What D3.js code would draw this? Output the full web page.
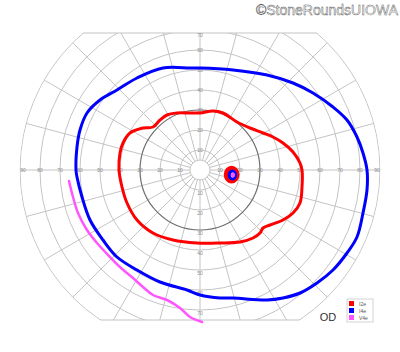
<!DOCTYPE html>
<html><head><meta charset="utf-8">
<script src="https://cdn.jsdelivr.net/npm/d3@7"></script>
<style>html,body{margin:0;padding:0;background:#fff}svg{display:block}</style>
</head><body><div id="c"></div>
<script>
// ---- data (degrees of visual field: [horizontal, vertical]) ----
const ringDegrees = [5,10,20,30,40,50,60,70,80,90];
const meridianStep = 15;
const hLabels = [10,20,30,40,50,60,70,80,90];
const vLabels = [10,20,30,40,50,60,70];
const fieldTop = 68.5, fieldBottom = -75;
const isopterNames = ["I2e","I4e","V4e"];
const isopterColors = ["#ff0000","#0000ff","#ff55ff"];
const redI2e = [[0,28.5],[6.5,29.5],[11.5,28.5],[18.5,24],[25,21],[31.5,18.5],[36.5,16.5],[41.5,13.5],[46.5,9],[50,3.5],[51,0],[51,-8.5],[50,-16.5],[46.5,-21.5],[41.5,-25],[35,-27.5],[31.5,-29],[30,-31.5],[26.5,-34],[20,-36],[10,-36.5],[-1.5,-36.5],[-13.5,-35],[-23.5,-31.5],[-31.5,-25],[-36.5,-16.5],[-39,-8.5],[-40.5,0],[-40,8.5],[-38.5,13.5],[-35,18.5],[-28.5,21],[-23.5,21.5],[-20,25],[-16.5,27.5],[-11.5,28.5],[-5,28.5]];
const blueI4e = [[0,51],[16.5,50],[33.5,47.5],[46.5,43.5],[56.5,38.5],[66.5,31.5],[73.5,25],[78.5,16.5],[81.5,8.5],[83.5,0],[83.5,-10],[81.5,-21.5],[78.5,-33.5],[73.5,-41.5],[66.5,-50],[58.5,-56.5],[50,-61.5],[41.5,-64],[33.5,-65],[16.5,-64],[10,-64],[0,-62.5],[-6.5,-60],[-20,-56],[-31.5,-50],[-41.5,-43.5],[-48.5,-35],[-55,-25],[-59,-13.5],[-61.5,-3.5],[-62,0],[-61.5,11.5],[-60,20],[-56.5,28.5],[-50,35],[-41.5,40],[-31.5,46],[-18.5,51],[-5,51]];
const magentaV4e = [[-65.5,-5.5],[-63.5,-13.5],[-61,-21.5],[-56.5,-30],[-51.5,-36.5],[-45,-43.5],[-40,-48.5],[-33.5,-54],[-28.5,-58.5],[-23.5,-62.5],[-16.5,-65],[-10,-69],[-5,-73.5],[1,-76]];
// blind spot per isopter: [cx, cy, rx, ry] in degrees
const blindSpots = [[15.8,-2.3,2.8,3.3],[16.2,-2.5,1.6,2.0],[16.5,-2.5,0.8,1.1]];
const eyeLabel = "OD";
const watermark = "©StoneRoundsUIOWA";

// ---- drawing ----
const W = 400, H = 352;
const x = d3.scaleLinear().domain([-90,90]).range([20,380]);
const y = d3.scaleLinear().domain([-90,90]).range([350,-10]);
const r = d3.scaleLinear().domain([0,90]).range([0,180]);
const cx = x(0), cy = y(0);

const svg = d3.select("#c").append("svg").attr("width",W).attr("height",H);
const defs = svg.append("defs");
defs.append("clipPath").attr("id","clipRect").append("rect")
  .attr("x",0).attr("width",W).attr("y",y(fieldTop)).attr("height",y(fieldBottom)-y(fieldTop));
defs.append("clipPath").attr("id","clipCirc").append("circle")
  .attr("cx",cx).attr("cy",cy).attr("r",r(90)+0.5);

const gOuter = svg.append("g").attr("clip-path","url(#clipCirc)");
const grid = gOuter.append("g").attr("clip-path","url(#clipRect)");

// meridians
const angles = d3.range(0,360,meridianStep);
grid.selectAll("line.m").data(angles).join("line")
  .attr("x1",a=>cx+r(5)*Math.cos(a*Math.PI/180))
  .attr("y1",a=>cy-r(5)*Math.sin(a*Math.PI/180))
  .attr("x2",a=>cx+r(90)*Math.cos(a*Math.PI/180))
  .attr("y2",a=>cy-r(90)*Math.sin(a*Math.PI/180))
  .attr("stroke","#c4c4c4").attr("stroke-width",1);
// rings
grid.selectAll("circle.r").data(ringDegrees).join("circle")
  .attr("cx",cx).attr("cy",cy).attr("r",d=>r(d))
  .attr("fill","none")
  .attr("stroke",d=>d===30?"#6e6e6e":"#c4c4c4")
  .attr("stroke-width",d=>d===30?1.2:1);
// top/bottom borders
gOuter.selectAll("line.b").data([fieldTop,fieldBottom]).join("line")
  .attr("x1",0).attr("x2",W).attr("y1",d=>y(d)).attr("y2",d=>y(d))
  .attr("stroke","#c4c4c4").attr("stroke-width",1.2);

// axis labels
const lab = svg.append("g").attr("font-family","Liberation Sans, Arial, sans-serif")
  .attr("font-size",5).attr("fill","#8a8a8a").attr("text-anchor","middle");
hLabels.forEach(d=>{
  const off = d===90?1.5:0;
  lab.append("text").attr("x",x(-d+off)).attr("y",cy).attr("dy","0.35em").text(d);
  lab.append("text").attr("x",x(d-off)).attr("y",cy).attr("dy","0.35em").text(d);
});
vLabels.forEach(d=>{
  lab.append("text").attr("x",cx).attr("y",Math.max(y(d),y(fieldTop)+2)).attr("dy","0.35em").text(d);
  lab.append("text").attr("x",cx).attr("y",y(-d)+3).attr("dy","0.35em").text(d);
});

// isopters
const closed = d3.line().x(d=>x(d[0])).y(d=>y(d[1])).curve(d3.curveCatmullRomClosed.alpha(0.5));
const open = d3.line().x(d=>x(d[0])).y(d=>y(d[1])).curve(d3.curveCatmullRom.alpha(0.5));
svg.append("path").attr("d",closed(blueI4e)).attr("fill","none").attr("stroke",isopterColors[1]).attr("stroke-width",3);
svg.append("path").attr("d",closed(redI2e)).attr("fill","none").attr("stroke",isopterColors[0]).attr("stroke-width",3);
svg.append("path").attr("d",open(magentaV4e)).attr("fill","none").attr("stroke",isopterColors[2]).attr("stroke-width",2.5).attr("stroke-linecap","round");

// blind spots
blindSpots.forEach((b,i)=>{
  svg.append("ellipse").attr("cx",x(b[0])).attr("cy",y(b[1]))
    .attr("rx",x(b[2])-x(0)).attr("ry",y(0)-y(b[3]))
    .attr("fill",i===2?isopterColors[2]:"none")
    .attr("stroke",isopterColors[i]).attr("stroke-width",i===0?4.5:(i===1?3:1));
});

// eye label
svg.append("text").attr("x",328).attr("y",321).attr("text-anchor","middle")
  .attr("font-family","Liberation Sans, Arial, sans-serif").attr("font-size",11).attr("fill","#333")
  .text(eyeLabel);

// legend
const lg = svg.append("g").attr("transform","translate(347,299)");
lg.append("rect").attr("width",26).attr("height",23).attr("fill","#fff").attr("stroke","#c8c8c8").attr("stroke-width",0.8);
isopterNames.forEach((n,i)=>{
  lg.append("rect").attr("x",2).attr("y",2+i*7).attr("width",5).attr("height",5).attr("fill",isopterColors[i]);
  lg.append("text").attr("x",12).attr("y",6.5+i*7).attr("font-family","Liberation Sans, Arial, sans-serif")
    .attr("font-size",5).attr("fill","#555").text(n);
});

// watermark
svg.append("text").attr("x",398).attr("y",15).attr("text-anchor","end")
  .attr("font-family","Liberation Sans, Arial, sans-serif").attr("font-size",14)
  .attr("fill","#fff").attr("stroke","#555").attr("stroke-width",0.45)
  .text(watermark);
</script></body></html>
